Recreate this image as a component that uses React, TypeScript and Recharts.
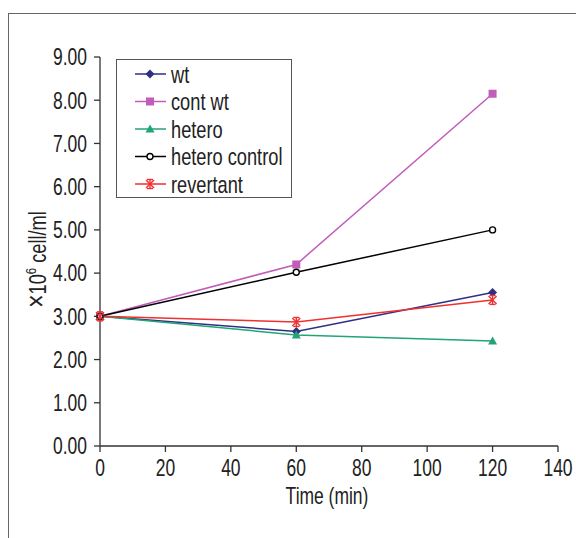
import { LineChart, Line, XAxis, YAxis, Label } from 'recharts';

const times = [0, 60, 120];
const wt = [3.0, 2.65, 3.55];
const contWt = [3.0, 4.2, 8.15];
const hetero = [3.0, 2.57, 2.43];
const heteroControl = [3.0, 4.02, 5.0];
const revertant = [3.0, 2.87, 3.38];

const xTicks = [0, 20, 40, 60, 80, 100, 120, 140];
const yTicks = [0, 1, 2, 3, 4, 5, 6, 7, 8, 9];

const FONT = "'Liberation Sans', Arial, sans-serif";
const SQUEEZE = 0.76;
const FS = 23;

const series = [
    { key: 'wt', name: 'wt', color: '#2f2f85', shape: 'diamond' },
    { key: 'contWt', name: 'cont wt', color: '#c25cba', shape: 'square' },
    { key: 'hetero', name: 'hetero', color: '#22a474', shape: 'triangle' },
    { key: 'heteroControl', name: 'hetero control', color: '#000000', shape: 'circle' },
    { key: 'revertant', name: 'revertant', color: '#ee3030', shape: 'star' },
];

const data = times.map((t, i) => ({
    time: t,
    wt: wt[i],
    contWt: contWt[i],
    hetero: hetero[i],
    heteroControl: heteroControl[i],
    revertant: revertant[i],
}));

// narrow text: the original uses a condensed face, so squeeze a regular one
function NarrowText({ x, y, anchor = 'start', dy = 0, rotate = 0, size = FS, children }: any) {
    return (
        <g transform={`translate(${x},${y}) rotate(${rotate})`}>
            <text
                transform={`scale(${SQUEEZE},1)`}
                textAnchor={anchor}
                dy={dy}
                fontSize={size}
                fontFamily={FONT}
                fill="#222"
            >
                {children}
            </text>
        </g>
    );
}

function Marker({ cx, cy, shape, color }: { cx: number; cy: number; shape: string; color: string }) {
    if (shape === 'diamond') {
        return <polygon points={`${cx},${cy - 4.5} ${cx + 4.5},${cy} ${cx},${cy + 4.5} ${cx - 4.5},${cy}`} fill={color} />;
    }
    if (shape === 'square') {
        return <rect x={cx - 4} y={cy - 4} width={8} height={8} fill={color} />;
    }
    if (shape === 'triangle') {
        return <polygon points={`${cx},${cy - 4.5} ${cx + 4.5},${cy + 3.5} ${cx - 4.5},${cy + 3.5}`} fill={color} />;
    }
    if (shape === 'circle') {
        return <circle cx={cx} cy={cy} r={3} fill="#fff" stroke={color} strokeWidth={1.4} />;
    }
    return (
        <g stroke={color} strokeWidth={1.4}>
            <line x1={cx - 4} y1={cy - 4} x2={cx + 4} y2={cy + 4} />
            <line x1={cx - 4} y1={cy + 4} x2={cx + 4} y2={cy - 4} />
            <line x1={cx} y1={cy - 4.5} x2={cx} y2={cy + 4.5} />
            <line x1={cx - 3} y1={cy - 4.5} x2={cx + 3} y2={cy - 4.5} />
            <line x1={cx - 3} y1={cy + 4.5} x2={cx + 3} y2={cy + 4.5} />
        </g>
    );
}

function LegendBox() {
    return (
        <div
            style={{
                position: 'absolute',
                left: 116,
                top: 59,
                width: 174,
                height: 137,
                border: '1.5px solid #555',
                background: '#fff',
            }}
        >
            <svg width={174} height={137} style={{ display: 'block' }}>
                {series.map((s, i) => {
                    const y = 14 + i * 27.5;
                    return (
                        <g key={s.key}>
                            <line x1={18} x2={49} y1={y} y2={y} stroke={s.color} strokeWidth={1.5} />
                            <Marker cx={33} cy={y} shape={s.shape} color={s.color} />
                            <NarrowText x={54} y={y} dy="0.36em" size={24}>
                                {s.name}
                            </NarrowText>
                        </g>
                    );
                })}
            </svg>
        </div>
    );
}

function XTick({ x, y, payload }: any) {
    return (
        <NarrowText x={x} y={y} anchor="middle" dy="0.71em">
            {payload.value}
        </NarrowText>
    );
}

function YTick({ x, y, payload }: any) {
    return (
        <NarrowText x={x} y={y} anchor="end" dy="0.36em">
            {Number(payload.value).toFixed(2)}
        </NarrowText>
    );
}

function YLabel({ viewBox }: any) {
    const x = viewBox.x + 17;
    const y = viewBox.y + viewBox.height / 2 + 8;
    return (
        <NarrowText x={x} y={y} anchor="middle" dy="0.36em" rotate={-90} size={24}>
            <tspan fontSize={30}>×</tspan>10<tspan fontSize={15} dy={-10}>6</tspan>
            <tspan dy={10}> cell/ml</tspan>
        </NarrowText>
    );
}

function XLabel({ viewBox }: any) {
    const x = viewBox.x + viewBox.width / 2 - 2;
    const y = viewBox.y + 50;
    return (
        <NarrowText x={x} y={y} anchor="middle" dy="0.36em">
            Time (min)
        </NarrowText>
    );
}

export default function App() {
    return (
        <div style={{ position: 'absolute', left: 0, top: 0, width: 576, height: 538, background: '#fff', overflow: 'hidden' }}>
            <div
                style={{
                    position: 'absolute',
                    left: 8,
                    top: 13,
                    width: 576,
                    height: 540,
                    borderLeft: '1.5px solid #666',
                    borderTop: '1.5px solid #666',
                }}
            />
            <div style={{ position: 'absolute', left: 0, top: 0 }}>
                <LineChart
                    width={576}
                    height={538}
                    data={data}
                    margin={{ top: 57, right: 18, left: 20, bottom: 62 }}
                >
                    <XAxis
                        dataKey="time"
                        type="number"
                        domain={[0, 140]}
                        ticks={xTicks}
                        height={30}
                        stroke="#333"
                        strokeWidth={1.3}
                        tickSize={6}
                        tickMargin={8}
                        tick={<XTick />}
                    >
                        <Label content={<XLabel />} />
                    </XAxis>
                    <YAxis
                        type="number"
                        domain={[0, 9]}
                        ticks={yTicks}
                        width={80}
                        stroke="#333"
                        strokeWidth={1.3}
                        tickSize={6}
                        tickMargin={7}
                        tick={<YTick />}
                    >
                        <Label content={<YLabel />} />
                    </YAxis>
                    {series.map((s) => (
                        <Line
                            key={s.key}
                            dataKey={s.key}
                            name={s.name}
                            type="linear"
                            stroke={s.color}
                            strokeWidth={1.5}
                            isAnimationActive={false}
                            dot={(p: any) => <Marker key={`${s.key}-${p.index}`} cx={p.cx} cy={p.cy} shape={s.shape} color={s.color} />}
                        />
                    ))}
                </LineChart>
            </div>
            <LegendBox />
        </div>
    );
}
